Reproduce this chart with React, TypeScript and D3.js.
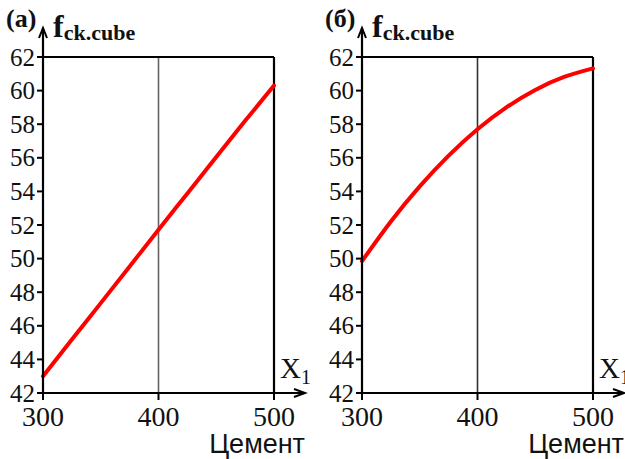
import React from 'react';
import * as d3 from 'd3';

// Cement content (x) and predicted compressive strength f_ck.cube
const cement = [300, 325, 350, 375, 400, 425, 450, 475, 500];
const strengthA = [43.0, 45.18, 47.35, 49.53, 51.72, 53.88, 56.05, 58.2, 60.3];
const strengthB = [49.85, 52.21, 54.3, 56.13, 57.7, 59.0, 60.04, 60.81, 61.32];

const xTicks = [300, 400, 500];
const yTicks = [42, 44, 46, 48, 50, 52, 54, 56, 58, 60, 62];

const panels = [
  { label: '(а)', values: strengthA, gridColor: '#666', offset: 0 },
  { label: '(б)', values: strengthB, gridColor: '#333', offset: 319 },
];

const margin = { left: 43, top: 57 };
const plotW = 231;
const plotH = 336;

const serif = '"Liberation Serif", "Times New Roman", serif';
const sans = '"Liberation Sans", Arial, sans-serif';

const Panel = ({ label, values, gridColor, offset }) => {
  const x = d3.scaleLinear().domain([300, 500]).range([0, plotW]);
  const y = d3.scaleLinear().domain([42, 62]).range([plotH, 0]);

  const line = d3.line()
    .x((d, i) => x(cement[i]))
    .y(d => y(d))
    .curve(d3.curveNatural);

  const arrowTop = -29;
  const arrowRight = plotW + 31;

  return (
    <g transform={`translate(${margin.left + offset},${margin.top})`}>
      {/* vertical guide at 400 */}
      <line x1={x(400)} x2={x(400)} y1={0} y2={plotH} stroke={gridColor} strokeWidth={1.6} />
      {/* frame: top and right */}
      <line x1={0} x2={plotW} y1={y(62)} y2={y(62)} stroke="#000" strokeWidth={2.2} />
      <line x1={plotW} x2={plotW} y1={0} y2={plotH} stroke="#000" strokeWidth={2.2} />

      {/* curve */}
      <path d={line(values)} fill="none" stroke="#ff0000" strokeWidth={4} strokeLinecap="round" />

      {/* y axis with arrow */}
      <line x1={0} x2={0} y1={plotH + 1} y2={arrowTop} stroke="#000" strokeWidth={2.2} />
      <path d={`M-4,${arrowTop + 10} L0,${arrowTop} L4,${arrowTop + 10}`} fill="none" stroke="#000" strokeWidth={2} />
      {yTicks.map(t => (
        <g key={t} transform={`translate(0,${y(t)})`}>
          <line x1={-6} x2={0} stroke="#000" strokeWidth={2} />
          <text x={-8} dy="0.34em" textAnchor="end" fontFamily={serif} fontSize={25} fill="#111">{t}</text>
        </g>
      ))}

      {/* x axis with arrow */}
      <line x1={-1} x2={arrowRight} y1={plotH} y2={plotH} stroke="#000" strokeWidth={2.2} />
      <path d={`M${arrowRight - 11},${plotH - 4} L${arrowRight},${plotH} L${arrowRight - 11},${plotH + 4}`} fill="none" stroke="#000" strokeWidth={2} />
      {xTicks.map(t => (
        <g key={t} transform={`translate(${x(t)},${plotH})`}>
          <line y1={0} y2={7} stroke="#000" strokeWidth={2} />
          <text y={33} textAnchor="middle" fontFamily={serif} fontSize={28} fill="#111">{t}</text>
        </g>
      ))}

      {/* axis labels */}
      <text x={plotW + 6} y={plotH - 15} fontFamily={serif} fontSize={29} fill="#111">
        X<tspan fontSize={20} dy={6}>1</tspan>
      </text>
      <text x={plotW + 31} y={plotH + 60} textAnchor="end" fontFamily={sans} fontSize={27} fill="#111">Цемент</text>

      <text x={-37} y={-30} fontFamily={serif} fontWeight="bold" fontSize={26} fill="#111">{label}</text>
      <text x={10} y={-20} fontFamily={serif} fontWeight="bold" fontSize={32} fill="#111">
        f<tspan fontSize={22} dy={3}>ck.cube</tspan>
      </text>
    </g>
  );
};

export default function App() {
  return (
    <svg width={625} height={459} style={{ position: 'absolute', left: 0, top: 0, background: '#fff' }}>
      {panels.map(p => <Panel key={p.label} {...p} />)}
    </svg>
  );
}
